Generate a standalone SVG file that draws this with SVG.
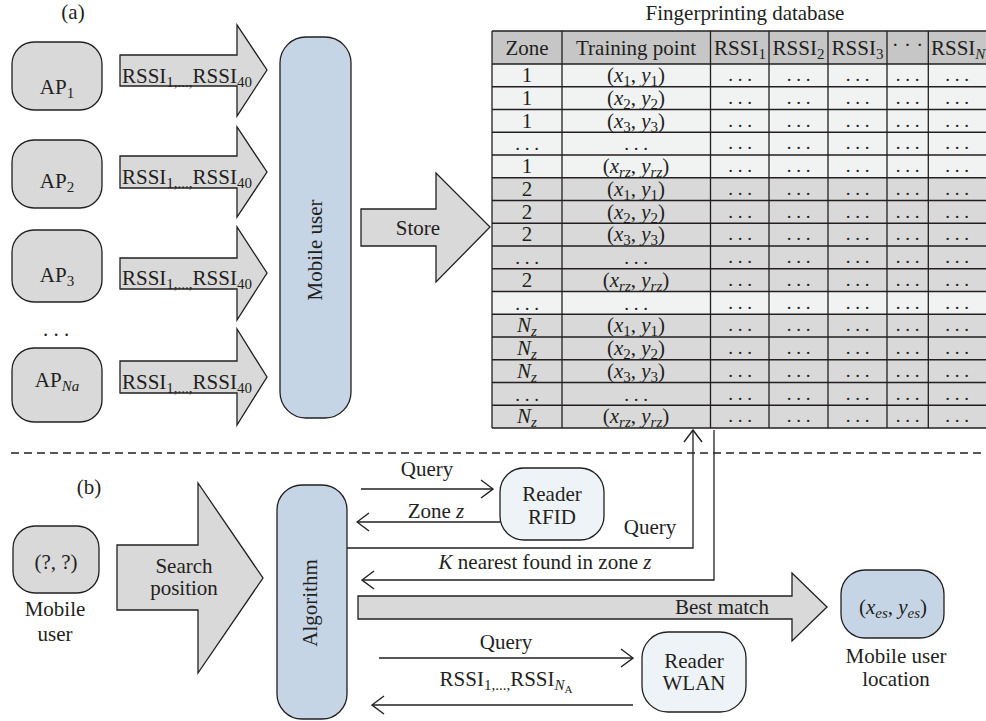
<svg xmlns="http://www.w3.org/2000/svg" width="986" height="721" viewBox="0 0 986 721">
<defs>
<style>
.t{font-family:"Liberation Serif","Times New Roman",serif;font-size:21px;fill:#231f20}
.m{text-anchor:middle}
.i{font-style:italic}
.s{font-size:15px}
.ss{font-size:11px}
.d{font-family:"Liberation Serif","Times New Roman",serif;font-size:19px;fill:#231f20;text-anchor:middle}
.g{fill:#d9d9d9;stroke:#231f20;stroke-width:1.3}
.b{fill:#c5d5e5;stroke:#231f20;stroke-width:1.3}
.lb{fill:#eef3f7;stroke:#231f20;stroke-width:1.3}
.ln{fill:none;stroke:#231f20;stroke-width:1.3}
.grid{fill:none;stroke:#231f20;stroke-width:1.3}
</style>
<marker id="ah" viewBox="0 0 14 20" refX="13" refY="10" markerWidth="14" markerHeight="20" markerUnits="userSpaceOnUse" orient="auto">
<path d="M1,1 L13,10 L1,19" fill="none" stroke="#231f20" stroke-width="1.4"/>
</marker>
</defs>
<rect width="986" height="721" fill="#ffffff"/>

<text class="t m" x="73" y="19">(a)</text>
<text class="t m" x="89" y="494">(b)</text>
<line x1="11" y1="453" x2="986" y2="453" stroke="#231f20" stroke-width="1.3" stroke-dasharray="8 5"/>

<!-- Access points -->
<g id="ap1"><rect class="g" x="12" y="42" width="90" height="68" rx="22"/><text class="t m" x="57" y="94">AP<tspan class="s" dy="4">1</tspan></text></g>
<g id="ap2"><rect class="g" x="12" y="140" width="90" height="68" rx="22"/><text class="t m" x="57" y="188">AP<tspan class="s" dy="4">2</tspan></text></g>
<g id="ap3"><rect class="g" x="12" y="230" width="90" height="72" rx="22"/><text class="t m" x="57" y="282">AP<tspan class="s" dy="4">3</tspan></text></g>
<text class="t m" x="56" y="336">. . .</text>
<g id="apna"><rect class="g" x="12" y="348" width="90" height="74" rx="22"/><text class="t m" x="57" y="387">AP<tspan class="s i" dy="4">Na</tspan></text></g>

<!-- Mobile user (a) -->
<g id="mobile-user-a"><rect class="b" x="280" y="37" width="71" height="381" rx="26"/><text class="t m" transform="translate(322,250) rotate(-90)">Mobile user</text></g>

<!-- Fingerprinting database -->
<g id="database">
<text class="t m" x="745" y="20">Fingerprinting database</text>
<rect x="492" y="31" width="500" height="33" fill="#c6c6c6"/>
<rect x="492" y="64" width="500" height="113.75" fill="#f1f3f3"/>
<rect x="492" y="177.75" width="500" height="113.75" fill="#d9d9d9"/>
<rect x="492" y="291.5" width="500" height="22.75" fill="#f1f3f3"/>
<rect x="492" y="314.25" width="500" height="113.75" fill="#d9d9d9"/>
<path class="grid" d="M492,31H992M492,64H992M492,86.75H992M492,109.5H992M492,132.25H992M492,155H992M492,177.75H992M492,200.5H992M492,223.25H992M492,246H992M492,268.75H992M492,291.5H992M492,314.25H992M492,337H992M492,359.75H992M492,382.5H992M492,405.25H992M492,428H992M492,31V428M562,31V428M710.5,31V428M769,31V428M828,31V428M887,31V428M928.3,31V428"/>
<text class="t m" x="527" y="55">Zone</text>
<text class="t m" x="636" y="55">Training point</text>
<text class="t m" x="740" y="55">RSSI<tspan class="s" dy="4">1</tspan></text>
<text class="t m" x="798.5" y="55">RSSI<tspan class="s" dy="4">2</tspan></text>
<text class="t m" x="857.5" y="55">RSSI<tspan class="s" dy="4">3</tspan></text>
<text class="t m" x="907.5" y="52">· · ·</text>
<text class="t" x="931" y="55">RSSI<tspan class="s i" dy="4">N</tspan><tspan class="ss" dy="3">A</tspan></text>

<text class="t m" x="527" y="82">1</text>
<text class="t m" x="636" y="82">(<tspan class="i">x</tspan><tspan class="s" dy="4">1</tspan><tspan dy="-4">, </tspan><tspan class="i">y</tspan><tspan class="s" dy="4">1</tspan><tspan dy="-4">)</tspan></text>
<text class="t m" x="527" y="104.8">1</text>
<text class="t m" x="636" y="104.8">(<tspan class="i">x</tspan><tspan class="s" dy="4">2</tspan><tspan dy="-4">, </tspan><tspan class="i">y</tspan><tspan class="s" dy="4">2</tspan><tspan dy="-4">)</tspan></text>
<text class="t m" x="527" y="127.5">1</text>
<text class="t m" x="636" y="127.5">(<tspan class="i">x</tspan><tspan class="s" dy="4">3</tspan><tspan dy="-4">, </tspan><tspan class="i">y</tspan><tspan class="s" dy="4">3</tspan><tspan dy="-4">)</tspan></text>
<text class="d" y="150.3"><tspan x="527">. . .</tspan><tspan x="636">. . .</tspan></text>
<text class="t m" x="527" y="173">1</text>
<text class="t m" x="636" y="173">(<tspan class="i">x</tspan><tspan class="s i" dy="4">rz</tspan><tspan dy="-4">, </tspan><tspan class="i">y</tspan><tspan class="s i" dy="4">rz</tspan><tspan dy="-4">)</tspan></text>
<text class="t m" x="527" y="195.8">2</text>
<text class="t m" x="636" y="195.8">(<tspan class="i">x</tspan><tspan class="s" dy="4">1</tspan><tspan dy="-4">, </tspan><tspan class="i">y</tspan><tspan class="s" dy="4">1</tspan><tspan dy="-4">)</tspan></text>
<text class="t m" x="527" y="218.5">2</text>
<text class="t m" x="636" y="218.5">(<tspan class="i">x</tspan><tspan class="s" dy="4">2</tspan><tspan dy="-4">, </tspan><tspan class="i">y</tspan><tspan class="s" dy="4">2</tspan><tspan dy="-4">)</tspan></text>
<text class="t m" x="527" y="241.3">2</text>
<text class="t m" x="636" y="241.3">(<tspan class="i">x</tspan><tspan class="s" dy="4">3</tspan><tspan dy="-4">, </tspan><tspan class="i">y</tspan><tspan class="s" dy="4">3</tspan><tspan dy="-4">)</tspan></text>
<text class="d" y="264"><tspan x="527">. . .</tspan><tspan x="636">. . .</tspan></text>
<text class="t m" x="527" y="286.8">2</text>
<text class="t m" x="636" y="286.8">(<tspan class="i">x</tspan><tspan class="s i" dy="4">rz</tspan><tspan dy="-4">, </tspan><tspan class="i">y</tspan><tspan class="s i" dy="4">rz</tspan><tspan dy="-4">)</tspan></text>
<text class="d" y="309.5"><tspan x="527">. . .</tspan><tspan x="636">. . .</tspan></text>
<text class="t m" x="527" y="332.3"><tspan class="i">N</tspan><tspan class="s i" dy="4">z</tspan></text>
<text class="t m" x="636" y="332.3">(<tspan class="i">x</tspan><tspan class="s" dy="4">1</tspan><tspan dy="-4">, </tspan><tspan class="i">y</tspan><tspan class="s" dy="4">1</tspan><tspan dy="-4">)</tspan></text>
<text class="t m" x="527" y="355"><tspan class="i">N</tspan><tspan class="s i" dy="4">z</tspan></text>
<text class="t m" x="636" y="355">(<tspan class="i">x</tspan><tspan class="s" dy="4">2</tspan><tspan dy="-4">, </tspan><tspan class="i">y</tspan><tspan class="s" dy="4">2</tspan><tspan dy="-4">)</tspan></text>
<text class="t m" x="527" y="377.8"><tspan class="i">N</tspan><tspan class="s i" dy="4">z</tspan></text>
<text class="t m" x="636" y="377.8">(<tspan class="i">x</tspan><tspan class="s" dy="4">3</tspan><tspan dy="-4">, </tspan><tspan class="i">y</tspan><tspan class="s" dy="4">3</tspan><tspan dy="-4">)</tspan></text>
<text class="d" y="400.5"><tspan x="527">. . .</tspan><tspan x="636">. . .</tspan></text>
<text class="t m" x="527" y="423.3"><tspan class="i">N</tspan><tspan class="s i" dy="4">z</tspan></text>
<text class="t m" x="636" y="423.3">(<tspan class="i">x</tspan><tspan class="s i" dy="4">rz</tspan><tspan dy="-4">, </tspan><tspan class="i">y</tspan><tspan class="s i" dy="4">rz</tspan><tspan dy="-4">)</tspan></text>

<text class="d" y="81"><tspan x="740">. . .</tspan><tspan x="798.5">. . .</tspan><tspan x="857.5">. . .</tspan><tspan x="907.5">. . .</tspan><tspan x="957">. . .</tspan></text>
<text class="d" y="103.8"><tspan x="740">. . .</tspan><tspan x="798.5">. . .</tspan><tspan x="857.5">. . .</tspan><tspan x="907.5">. . .</tspan><tspan x="957">. . .</tspan></text>
<text class="d" y="126.5"><tspan x="740">. . .</tspan><tspan x="798.5">. . .</tspan><tspan x="857.5">. . .</tspan><tspan x="907.5">. . .</tspan><tspan x="957">. . .</tspan></text>
<text class="d" y="149.3"><tspan x="740">. . .</tspan><tspan x="798.5">. . .</tspan><tspan x="857.5">. . .</tspan><tspan x="907.5">. . .</tspan><tspan x="957">. . .</tspan></text>
<text class="d" y="172"><tspan x="740">. . .</tspan><tspan x="798.5">. . .</tspan><tspan x="857.5">. . .</tspan><tspan x="907.5">. . .</tspan><tspan x="957">. . .</tspan></text>
<text class="d" y="194.8"><tspan x="740">. . .</tspan><tspan x="798.5">. . .</tspan><tspan x="857.5">. . .</tspan><tspan x="907.5">. . .</tspan><tspan x="957">. . .</tspan></text>
<text class="d" y="217.5"><tspan x="740">. . .</tspan><tspan x="798.5">. . .</tspan><tspan x="857.5">. . .</tspan><tspan x="907.5">. . .</tspan><tspan x="957">. . .</tspan></text>
<text class="d" y="240.3"><tspan x="740">. . .</tspan><tspan x="798.5">. . .</tspan><tspan x="857.5">. . .</tspan><tspan x="907.5">. . .</tspan><tspan x="957">. . .</tspan></text>
<text class="d" y="263"><tspan x="740">. . .</tspan><tspan x="798.5">. . .</tspan><tspan x="857.5">. . .</tspan><tspan x="907.5">. . .</tspan><tspan x="957">. . .</tspan></text>
<text class="d" y="285.8"><tspan x="740">. . .</tspan><tspan x="798.5">. . .</tspan><tspan x="857.5">. . .</tspan><tspan x="907.5">. . .</tspan><tspan x="957">. . .</tspan></text>
<text class="d" y="308.5"><tspan x="740">. . .</tspan><tspan x="798.5">. . .</tspan><tspan x="857.5">. . .</tspan><tspan x="907.5">. . .</tspan><tspan x="957">. . .</tspan></text>
<text class="d" y="331.3"><tspan x="740">. . .</tspan><tspan x="798.5">. . .</tspan><tspan x="857.5">. . .</tspan><tspan x="907.5">. . .</tspan><tspan x="957">. . .</tspan></text>
<text class="d" y="354"><tspan x="740">. . .</tspan><tspan x="798.5">. . .</tspan><tspan x="857.5">. . .</tspan><tspan x="907.5">. . .</tspan><tspan x="957">. . .</tspan></text>
<text class="d" y="376.8"><tspan x="740">. . .</tspan><tspan x="798.5">. . .</tspan><tspan x="857.5">. . .</tspan><tspan x="907.5">. . .</tspan><tspan x="957">. . .</tspan></text>
<text class="d" y="399.5"><tspan x="740">. . .</tspan><tspan x="798.5">. . .</tspan><tspan x="857.5">. . .</tspan><tspan x="907.5">. . .</tspan><tspan x="957">. . .</tspan></text>
<text class="d" y="422.3"><tspan x="740">. . .</tspan><tspan x="798.5">. . .</tspan><tspan x="857.5">. . .</tspan><tspan x="907.5">. . .</tspan><tspan x="957">. . .</tspan></text>
</g>

<!-- Part (b) nodes -->
<g id="mobile-user-b"><rect class="g" x="13" y="526" width="86" height="67" rx="22"/><text class="t m" x="56" y="569">(?, ?)</text><text class="t m" x="55" y="616">Mobile</text><text class="t m" x="55" y="641">user</text></g>
<g id="algorithm"><rect class="b" x="277" y="485" width="70" height="234" rx="25"/><text class="t m" transform="translate(317,603) rotate(-90)">Algorithm</text></g>
<g id="reader-rfid"><rect class="lb" x="500" y="468" width="104" height="72" rx="24"/><text class="t m" x="552" y="501">Reader</text><text class="t m" x="552" y="524">RFID</text></g>
<g id="reader-wlan"><rect class="lb" x="642" y="632" width="104" height="80" rx="26"/><text class="t m" x="694" y="668">Reader</text><text class="t m" x="694" y="690">WLAN</text></g>
<g id="location"><rect class="b" x="841" y="570" width="103" height="68" rx="24"/><text class="t m" x="893" y="614">(<tspan class="i">x</tspan><tspan class="s i" dy="4">es</tspan><tspan dy="-4">, </tspan><tspan class="i">y</tspan><tspan class="s i" dy="4">es</tspan><tspan dy="-4">)</tspan></text><text class="t m" x="896" y="663">Mobile user</text><text class="t m" x="896" y="686">location</text></g>

<!-- Connectors -->
<g id="connectors">
<polygon class="g" points="120,55 237,55 237,25 267,70 237,116 237,86 120,86"/>
<text class="t" x="122" y="83">RSSI<tspan class="s" dy="4">1,...,</tspan><tspan dy="-4">RSSI</tspan><tspan class="s" dy="4">40</tspan></text>
<polygon class="g" points="120,156 237,156 237,127 267,172 237,217 237,188 120,188"/>
<text class="t" x="122" y="184">RSSI<tspan class="s" dy="4">1,...,</tspan><tspan dy="-4">RSSI</tspan><tspan class="s" dy="4">40</tspan></text>
<polygon class="g" points="120,258 237,258 237,227 267,273 237,320 237,289 120,289"/>
<text class="t" x="122" y="285">RSSI<tspan class="s" dy="4">1,...,</tspan><tspan dy="-4">RSSI</tspan><tspan class="s" dy="4">40</tspan></text>
<polygon class="g" points="120,361 237,361 237,329 267,377 237,425 237,393 120,393"/>
<text class="t" x="122" y="389">RSSI<tspan class="s" dy="4">1,...,</tspan><tspan dy="-4">RSSI</tspan><tspan class="s" dy="4">40</tspan></text>

<polygon class="g" points="361,209 436,209 436,173 490,227 436,282 436,246 361,246"/>
<text class="t m" x="418" y="235">Store</text>

<polygon class="g" points="117,545 198,545 198,483 263,578 198,673 198,610 117,610"/>
<text class="t m" x="184" y="573">Search</text>
<text class="t m" x="184" y="595">position</text>

<polygon class="g" points="358,596 792,596 792,573 827,607 792,641 792,619 358,619"/>
<text class="t m" x="722" y="614">Best match</text>

<line class="ln" x1="361" y1="489" x2="493" y2="489" marker-end="url(#ah)"/>
<text class="t m" x="427" y="476">Query</text>
<line class="ln" x1="500" y1="522" x2="357" y2="522" marker-end="url(#ah)"/>
<text class="t m" x="436" y="518">Zone <tspan class="i">z</tspan></text>

<polyline class="ln" points="347,548 693,548 693,430" marker-end="url(#ah)"/>
<text class="t m" x="650" y="534">Query</text>
<polyline class="ln" points="714,430 714,580 362,580" marker-end="url(#ah)"/>
<text class="t m" x="545" y="569"><tspan class="i">K</tspan> nearest found in zone <tspan class="i">z</tspan></text>

<line class="ln" x1="379" y1="658" x2="633" y2="658" marker-end="url(#ah)"/>
<text class="t m" x="506" y="649">Query</text>
<line class="ln" x1="633" y1="705" x2="372" y2="705" marker-end="url(#ah)"/>
<text class="t m" x="506" y="686">RSSI<tspan class="s" dy="4">1,...,</tspan><tspan dy="-4">RSSI</tspan><tspan class="s i" dy="4">N</tspan><tspan class="ss" dy="3">A</tspan></text>
</g>
</svg>
